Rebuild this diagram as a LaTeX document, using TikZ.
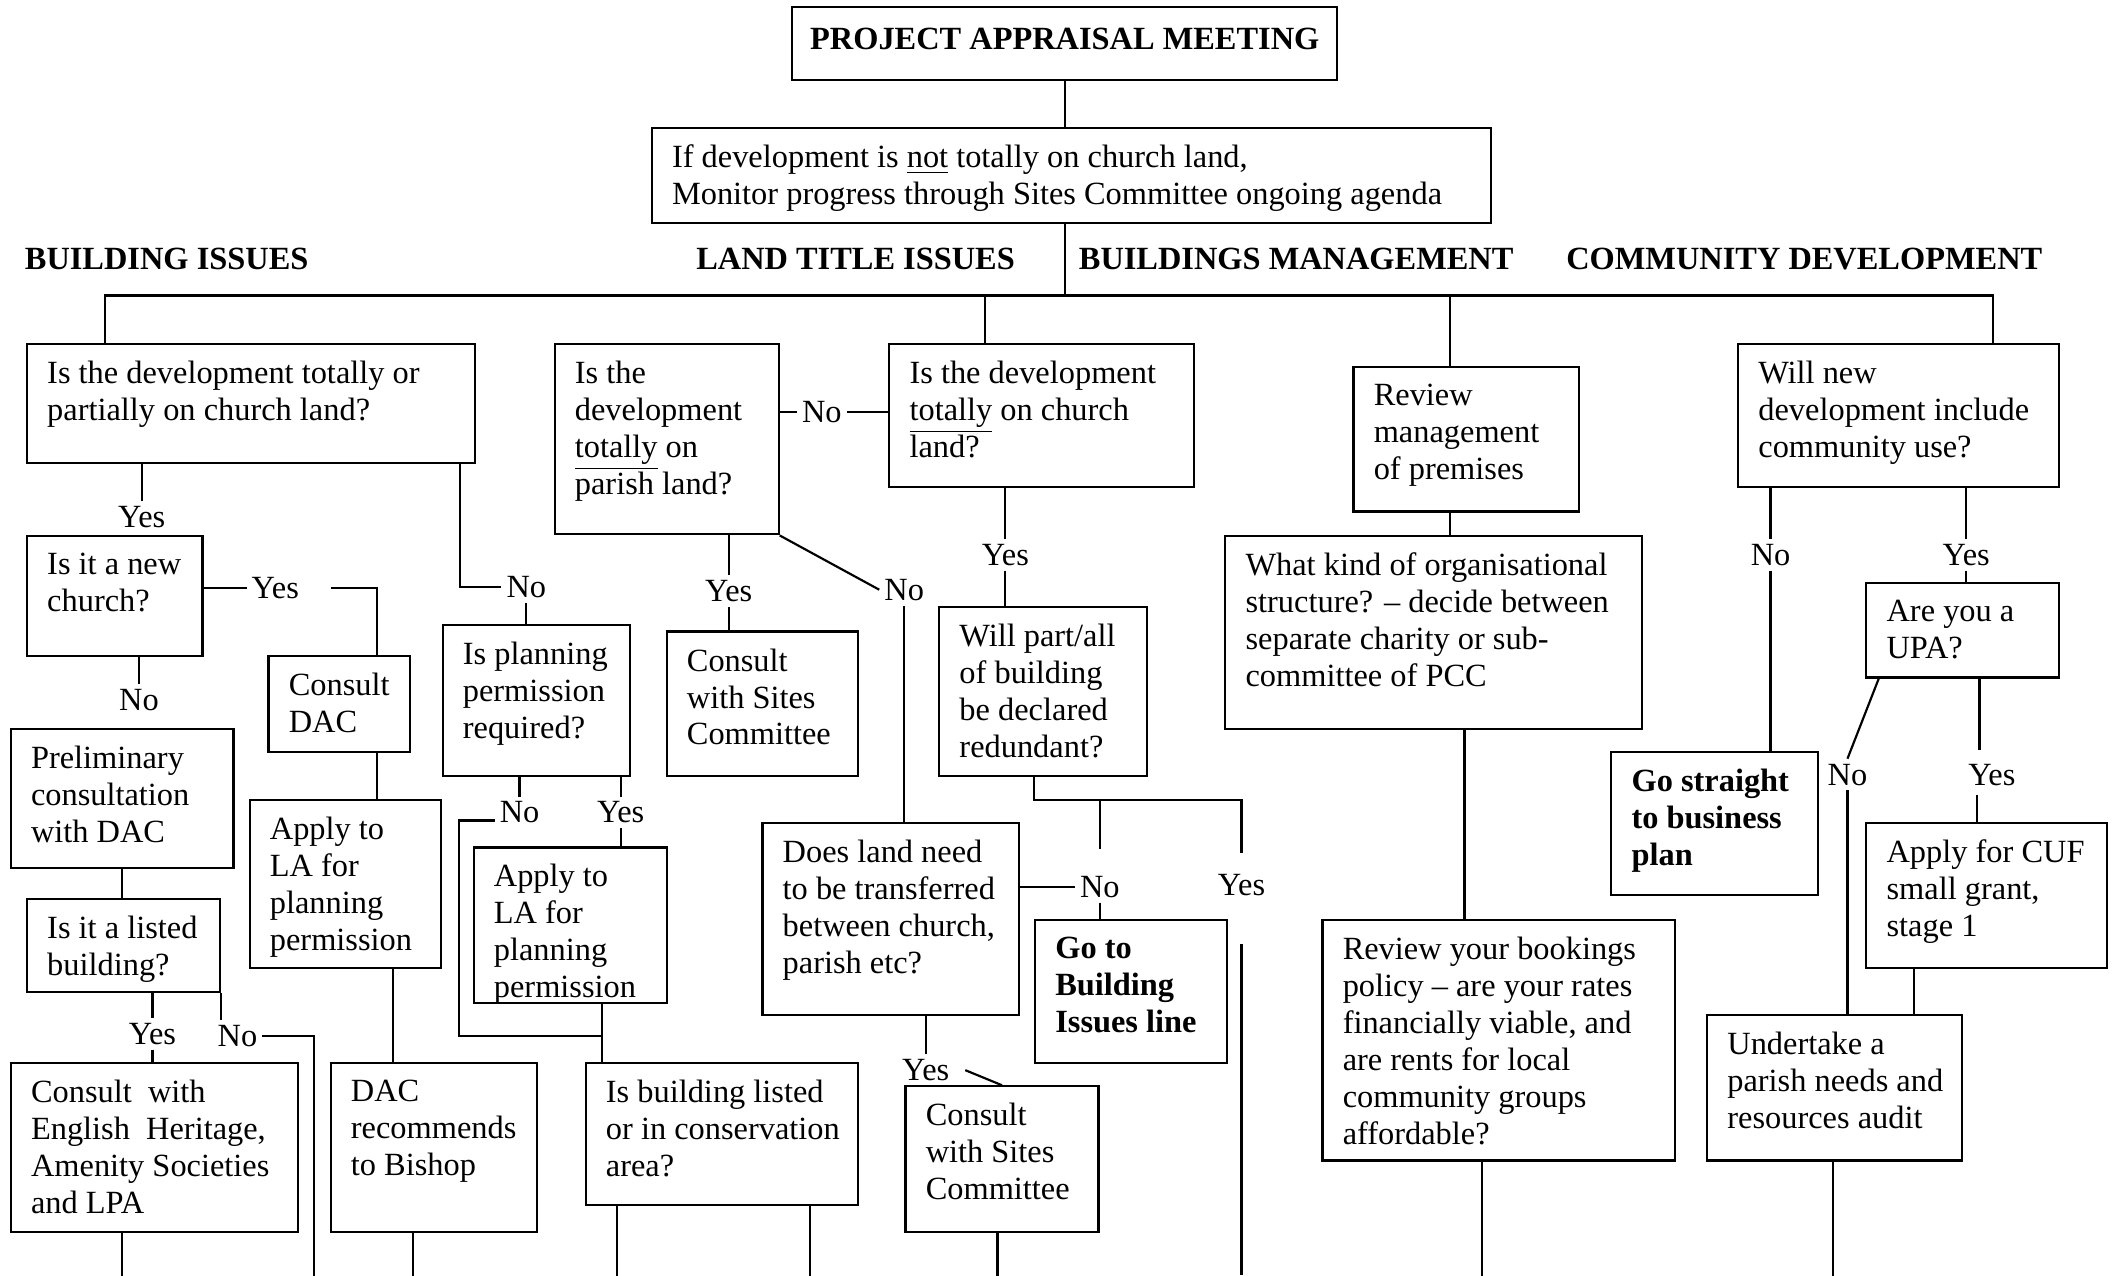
\documentclass[tikz,border=0pt]{standalone}
\usepackage{fontspec}
\setmainfont{Liberation Serif}
\usetikzlibrary{fit}
\newcommand{\chartfont}{\fontsize{12}{13.7}\selectfont}

\begin{document}
\begin{tikzpicture}[x=0.5pt, y=-0.5pt, line width=0.8pt, font=\chartfont]
    \tikzset{box/.style = {draw, inner sep=0pt}}
    \tikzset{txt/.style = {anchor=north west, align=left, inner xsep=7.5pt, inner ysep=6.3pt, execute at begin node=\strut}}
    \tikzset{bold/.style = {font=\chartfont\bfseries}}
    \tikzset{answer/.style = {inner sep=1.5pt}}

    \useasboundingbox (0,0) rectangle (1568,945);

    % top of the chart
    \node[box, fit={(587,5) (991,59)}, label={[txt, bold, anchor=north]north:PROJECT APPRAISAL MEETING}] (pam) {};
    \node[box, fit={(483,95) (1105,165)}, label={[txt]north west:{If development is \underline{not} totally on church land,\\Monitor progress through Sites Committee ongoing agenda}}] (agenda) {};

    \node[bold] (hbuild) at (123.5,192) {BUILDING ISSUES};
    \node[bold] (hland) at (634,192) {LAND TITLE ISSUES};
    \node[bold] (hman) at (960.5,192) {BUILDINGS MANAGEMENT};
    \node[bold] (hcomm) at (1337,192) {COMMUNITY DEVELOPMENT};

    % building issues
    \node[box, fit={(20,255) (352,343)}, label={[txt]north west:{Is the development totally or\\partially on church land?}}] (qland) {};
    \node[box, fit={(20,397) (150,486)}, label={[txt]north west:{Is it a new\\church?}}] (qnew) {};
    \node[box, fit={(199,486) (304,557)}, label={[txt]north west:{Consult\\DAC}}] (dac) {};
    \node[box, fit={(185,593) (327,717)}, label={[txt]north west:{Apply to\\LA for\\planning\\permission}}] (applyA) {};
    \node[box, fit={(245,788) (398,913)}, label={[txt]north west:{DAC\\recommends\\to Bishop}}] (bishop) {};
    \node[box, fit={(8,540) (173,643)}, label={[txt]north west:{Preliminary\\consultation\\with DAC}}] (prelim) {};
    \node[box, fit={(20,666) (163,735)}, label={[txt]north west:{Is it a listed\\building?}}] (qlisted) {};
    \node[box, fit={(8,788) (221,913)}, label={[txt]north west:{Consult~ with\\English~ Heritage,\\Amenity Societies\\and LPA}}] (heritage) {};

    \node[box, fit={(328,463) (467,575)}, label={[txt]north west:{Is planning\\permission\\required?}}] (qplan) {};
    \node[box, fit={(351,628) (494,743)}, label={[txt]north west:{Apply to\\LA for\\planning\\permission}}] (applyB) {};
    \node[box, fit={(434,788) (636,893)}, label={[txt]north west:{Is building listed\\or in conservation\\area?}}] (qcons) {};

    % land title issues
    \node[box, fit={(411,255) (577,396)}, label={[txt]north west:{Is the\\development\\\underline{totally} on\\parish land?}}] (qparish) {};
    \node[box, fit={(494,468) (636,575)}, label={[txt]north west:{Consult\\with Sites\\Committee}}] (sites) {};
    \node[box, fit={(659,255) (885,361)}, label={[txt]north west:{Is the development\\\underline{totally} on church\\land?}}] (qtotal) {};
    \node[box, fit={(565,610) (755,752)}, label={[txt]north west:{Does land need\\to be transferred\\between church,\\parish etc?}}] (qtransfer) {};
    \node[box, fit={(671,805) (814,913)}, label={[txt]north west:{Consult\\with Sites\\Committee}}] (sitesB) {};
    \node[box, fit={(696,450) (850,575)}, label={[txt]north west:{Will part/all\\of building\\be declared\\redundant?}}] (qredundant) {};
    \node[box, fit={(767,682) (909,788)}, label={[txt, bold]north west:{Go to\\Building\\Issues line}}] (goline) {};

    % buildings management
    \node[box, fit={(1003,272) (1170,379)}, label={[txt]north west:{Review\\management\\of premises}}] (review) {};
    \node[box, fit={(908,397) (1217,540)}, label={[txt]north west:{What kind of organisational\\structure? -- decide between\\separate charity or sub-\\committee of PCC}}] (orgtype) {};
    \node[box, fit={(980,682) (1241,860)}, label={[txt]north west:{Review your bookings\\policy -- are your rates\\financially viable, and\\are rents for local\\community groups\\affordable?}}] (bookings) {};

    % community development
    \node[box, fit={(1288,255) (1526,361)}, label={[txt]north west:{Will new\\development include\\community use?}}] (qcomm) {};
    \node[box, fit={(1383,432) (1526,502)}, label={[txt]north west:{Are you a\\UPA?}}] (qupa) {};
    \node[box, fit={(1194,557) (1347,663)}, label={[txt, bold]north west:{Go straight\\to business\\plan}}] (straight) {};
    \node[box, fit={(1383,610) (1561,717)}, label={[txt]north west:{Apply for CUF\\small grant,\\stage 1}}] (cuf) {};
    \node[box, fit={(1265,752) (1454,860)}, label={[txt]north west:{Undertake a\\parish needs and\\resources audit}}] (audit) {};

    % answers
    \node[answer] (a1) at (105,383) {Yes};
    \node[answer] (a2) at (204,436) {Yes};
    \node[answer] (a3) at (103,519) {No};
    \node[answer] (a4) at (113,766) {Yes};
    \node[answer] (a5) at (176,768) {No};
    \node[answer] (a6) at (390,435) {No};
    \node[answer] (a7) at (385,602) {No};
    \node[answer] (a8) at (460,602) {Yes};
    \node[answer] (a9) at (609,305) {No};
    \node[answer] (a10) at (540,438) {Yes};
    \node[answer] (a11) at (670,437) {No};
    \node[answer] (a12) at (745,411) {Yes};
    \node[answer] (a13) at (815,657) {No};
    \node[answer] (a14) at (920,656) {Yes};
    \node[answer] (a15) at (686,793) {Yes};
    \node[answer] (a16) at (1312,411) {No};
    \node[answer] (a17) at (1457,411) {Yes};
    \node[answer] (a18) at (1369,574) {No};
    \node[answer] (a19) at (1476,574) {Yes};

    \coordinate (busL) at (78,219);
    \coordinate (busR) at (1477,219);
    \coordinate (k7) at (340,768);
    \coordinate (k9) at (920,593);
    \coordinate (btm) at (0,945);

    % trunk
    \draw (pam.south) -- (pam.south |- agenda.north);
    \draw (pam.south |- agenda.south) -- (pam.south |- busL);
    \draw (busL |- qland.north) -- (busL) -- (busR) -- (busR |- qcomm.north);
    \draw ([xshift=36pt]qtotal.north west) -- ++(0,18pt);
    \draw ([xshift=36pt]review.north west) -- ++(0,26.5pt);

    % building issues lines
    \draw (a1.north) -- (a1.north |- qland.south);
    \draw (qnew.east |- a2) -- (a2.west);
    \draw ([xshift=10pt]a2.east) -| ([xshift=40.5pt]dac.north west);
    \draw (a3.north) -- (a3.north |- qnew.south);
    \draw ([xshift=40.5pt]dac.south west) -- ([xshift=47.5pt]applyA.north west);
    \draw ([xshift=53.5pt]applyA.south west) -- ([xshift=23.5pt]bishop.north west);
    \draw ([xshift=31pt]bishop.south west) -- ++(0,-16pt);
    \draw ([xshift=41.5pt]prelim.south west) -- ([xshift=35.5pt]qlisted.north west);
    \draw (a4.north) -- (a4.north |- qlisted.south);
    \draw (a4.south) -- (a4.south |- heritage.north);
    \draw (qlisted.south east) -- ++(0,-10pt);
    \draw (a5.east) -| ([xshift=5.5pt]heritage.south east) -- ++(0,-16pt);
    \draw ([xshift=41.5pt]heritage.south west) -- ++(0,-16pt);

    \draw ([xshift=-6pt]qland.south east) |- (a6.west);
    \draw (a6.south) -- (a6.south |- qplan.north);
    \draw (a7.north) -- (a7.north |- qplan.south);
    \draw ([yshift=-3pt]a7.west) -| (k7) -| ([xshift=6.5pt]qcons.north west);
    \draw (a8.north) -- (a8.north |- qplan.south);
    \draw (a8.south) -- (a8.south |- applyB.north);
    \draw ([xshift=48pt]applyB.south west) -- ([xshift=6.5pt]qcons.north west);
    \draw ([xshift=12pt]qcons.south west) -- ++(0,-26pt);
    \draw ([xshift=83.5pt]qcons.south west) -- ++(0,-26pt);

    % land title lines
    \draw (qparish.east |- a9) -- (a9.west);
    \draw (a9.east) -- (a9.east -| qtotal.west);
    \draw (a10.north) -- (a10.north |- qparish.south);
    \draw (a10.south) -- (a10.south |- sites.north);
    \draw (qparish.south east) -- (a11.west);
    \draw (a11.south) -- (a11.south |- qtransfer.north);
    \draw (a12.north) -- (a12.north |- qtotal.south);
    \draw (a12.south) -- (a12.south |- qredundant.north);
    \draw ([xshift=35.5pt]qredundant.south west) |- (k9) -- ([yshift=6pt]a14.north);
    \draw ([yshift=8pt]a13.north) -- (a13.north |- k9);
    \draw (a13.south) -- (a13.south |- goline.north);
    \draw ([yshift=-16pt]a14.south) -- (a14.south |- btm);
    \draw (qtransfer.east |- a13) -- (a13.west);
    \draw (a15.north) -- (a15.north |- qtransfer.south);
    \draw ([xshift=4pt]a15.east) -- (sitesB.north);
    \draw ([xshift=34.5pt]sitesB.south west) -- ++(0,-16pt);

    % buildings management lines
    \draw ([xshift=36pt]review.south west) -- ([xshift=83.5pt]orgtype.north west);
    \draw ([xshift=89pt]orgtype.south west) -- ([xshift=53pt]bookings.north west);
    \draw ([xshift=59.5pt]bookings.south west) -- ++(0,-42.5pt);

    % community development lines
    \draw (a16.north) -- (a16.north |- qcomm.south);
    \draw (a16.south) -- (a16.south |- straight.north);
    \draw (a17.north) -- (a17.north |- qcomm.south);
    \draw (a17.south) -- (a17.south |- qupa.north);
    \draw ([xshift=5pt]qupa.south west) -- (a18.north);
    \draw (a18.south) -- (a18.south |- audit.north);
    \draw ([xshift=-30pt]qupa.south east) -- ++(0,-26.5pt);
    \draw ([xshift=41.5pt]cuf.north west) -- ++(0,10pt);
    \draw ([xshift=18pt]cuf.south west) -- ([xshift=77pt]audit.north west);
    \draw ([xshift=47pt]audit.south west) -- ++(0,-42.5pt);
\end{tikzpicture}
\end{document}
